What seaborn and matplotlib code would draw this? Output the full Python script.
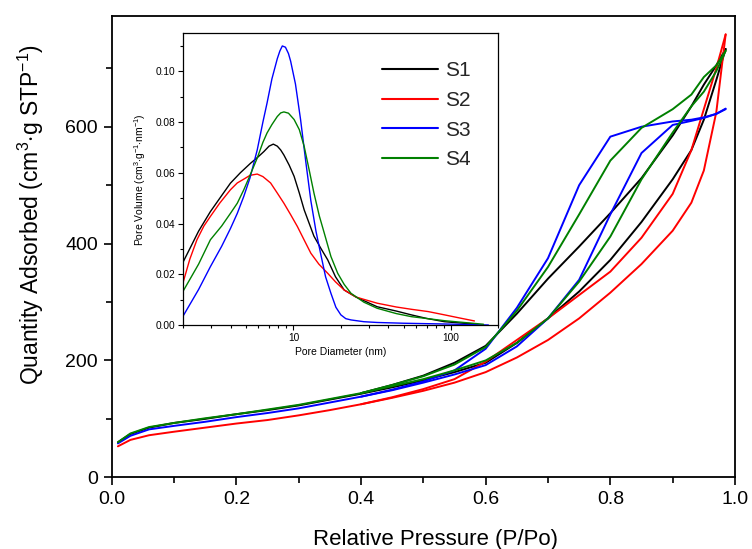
import numpy as np
import pandas as pd
import matplotlib
matplotlib.use("Agg")
import matplotlib.pyplot as plt
import seaborn as sns
from matplotlib.ticker import MultipleLocator, FixedLocator, NullFormatter, FixedFormatter

sns.set_theme(style="white")
plt.rcParams['font.family'] = ['Liberation Sans', 'DejaVu Sans']
plt.rcParams['mathtext.fontset'] = 'custom'
plt.rcParams['mathtext.rm'] = 'Liberation Sans'
plt.rcParams['mathtext.it'] = 'Liberation Sans:italic'
plt.rcParams['mathtext.bf'] = 'Liberation Sans:bold'

samples = ["S1", "S2", "S3", "S4"]
colors = ["#000000", "#ff0000", "#0000ff", "#008000"]

# ---- isotherms: adsorption branches ----
p_ads = [0.01, 0.03, 0.06, 0.10, 0.15, 0.20, 0.25, 0.30, 0.35, 0.40, 0.45, 0.50,
         0.55, 0.60, 0.65, 0.70, 0.75, 0.80, 0.85, 0.90, 0.93, 0.95, 0.97, 0.985]
s1_ads = [60, 74, 85, 93, 100, 108, 115, 123, 133, 143, 154, 166,
          180, 196, 230, 272, 318, 372, 437, 510, 560, 612, 680, 733]
s2_ads = [53, 64, 72, 78, 85, 92, 98, 106, 115, 125, 136, 148,
          162, 180, 205, 235, 272, 316, 365, 422, 470, 525, 625, 758]
s3_ads = [58, 71, 82, 88, 95, 103, 110, 118, 128, 138, 149, 162,
          176, 192, 224, 272, 338, 450, 555, 603, 610, 615, 622, 630]
s4_ads = [60, 75, 86, 93, 101, 108, 116, 124, 134, 144, 156, 168,
          183, 200, 230, 272, 335, 412, 510, 590, 635, 660, 695, 730]

# ---- isotherms: desorption branches ----
p_des = [0.985, 0.97, 0.95, 0.93, 0.90, 0.85, 0.80, 0.75, 0.70, 0.65, 0.60,
         0.55, 0.50, 0.45, 0.40]
s1_des = [733, 705, 672, 635, 585, 512, 452, 395, 340, 280, 225, 196, 174, 158, 144]
s2_des = [758, 700, 630, 560, 485, 410, 352, 312, 272, 235, 198, 168, 151, 137, 125]
s3_des = [631, 622, 616, 612, 609, 600, 583, 500, 375, 290, 220, 183, 164, 150, 138]
s4_des = [730, 705, 685, 655, 630, 598, 542, 450, 360, 285, 223, 193, 173, 158, 144]

# ---- pore size distributions ----
s1_d = [2.0, 2.5, 2.97, 3.5, 3.98, 4.6, 5.35, 5.9, 6.5, 7.0, 7.45, 7.9, 8.3, 8.7, 9.4,
        10.1, 10.9, 11.7, 12.6, 13.5, 15, 16.5, 18.5, 21, 25, 34, 45, 56, 70, 91, 120, 148]
s1_v = [0.025, 0.037, 0.0447, 0.051, 0.0559, 0.060, 0.0638, 0.066, 0.0684, 0.0705, 0.0713,
        0.0705, 0.069, 0.067, 0.063, 0.0586, 0.052, 0.0454, 0.040, 0.035, 0.030, 0.0257,
        0.019, 0.0138, 0.011, 0.0072, 0.0055, 0.004, 0.0026, 0.0013, 0.0007, 0.0004]
s2_d = [2.0, 2.2, 2.44, 2.7, 2.97, 3.4, 3.98, 4.4, 4.84, 5.3, 5.89, 6.4, 7.16, 7.9, 8.7,
        9.6, 10.6, 11.7, 12.9, 14.5, 16.5, 18.5, 21, 25, 34, 45, 56, 71.6, 91, 115, 141]
s2_v = [0.0171, 0.026, 0.0336, 0.039, 0.0428, 0.048, 0.0533, 0.056, 0.0575, 0.059, 0.0595,
        0.0585, 0.056, 0.052, 0.048, 0.0435, 0.0388, 0.0335, 0.0283, 0.024, 0.0204, 0.017,
        0.0138, 0.011, 0.0086, 0.0071, 0.0062, 0.0053, 0.004, 0.0027, 0.0016]
s3_d = [2.0, 2.5, 2.97, 3.5, 3.98, 4.4, 4.84, 5.3, 5.89, 6.4, 6.8, 7.3, 7.9, 8.2, 8.5,
        8.9, 9.3, 9.6, 10.3, 11.1, 12.0, 12.9, 13.9, 14.9, 16.0, 17.3, 18.6, 20, 21.5,
        23.2, 28, 34, 50, 91, 173]
s3_v = [0.0037, 0.014, 0.023, 0.031, 0.038, 0.044, 0.0507, 0.058, 0.069, 0.080, 0.0875,
        0.097, 0.105, 0.108, 0.110, 0.1095, 0.107, 0.104, 0.095, 0.081, 0.064, 0.049,
        0.037, 0.028, 0.019, 0.0125, 0.007, 0.004, 0.0025, 0.002, 0.0013, 0.001, 0.0007,
        0.0004, 0.0]
s4_d = [2.0, 2.5, 2.97, 3.5, 3.98, 4.4, 4.84, 5.3, 5.89, 6.4, 6.8, 7.3, 7.9, 8.3, 8.7,
        9.3, 10.1, 10.9, 11.7, 12.6, 13.5, 14.6, 15.7, 17.3, 19.1, 21, 23.2, 28, 34, 45,
        56, 91, 161]
s4_v = [0.0135, 0.024, 0.0336, 0.039, 0.044, 0.048, 0.0533, 0.059, 0.0658, 0.072, 0.0757,
        0.079, 0.0822, 0.0836, 0.084, 0.0835, 0.081, 0.077, 0.0704, 0.061, 0.052, 0.043,
        0.0362, 0.027, 0.0204, 0.016, 0.0125, 0.009, 0.0066, 0.0045, 0.0033, 0.0017, 0.0003]

ads = [s1_ads, s2_ads, s3_ads, s4_ads]
des = [s1_des, s2_des, s3_des, s4_des]
psd_d = [s1_d, s2_d, s3_d, s4_d]
psd_v = [s1_v, s2_v, s3_v, s4_v]

fig = plt.figure(figsize=(7.52, 5.49), dpi=100)
fig.patch.set_facecolor("white")
ax = fig.add_axes([0.1485, 0.1306, 0.8289, 0.8408])
ax.set_facecolor("white")

for name, col, a, d in zip(samples, colors, ads, des):
    sns.lineplot(x=p_ads, y=a, ax=ax, color=col, lw=1.4, sort=False, legend=False)
    sns.lineplot(x=p_des, y=d, ax=ax, color=col, lw=1.4, sort=False, legend=False)

ax.set_xlim(0, 1.0)
ax.set_ylim(0, 790)
ax.xaxis.set_major_locator(MultipleLocator(0.2))
ax.xaxis.set_minor_locator(MultipleLocator(0.1))
ax.yaxis.set_major_locator(MultipleLocator(200))
ax.yaxis.set_minor_locator(MultipleLocator(100))
ax.set_xticklabels([f"{v:.1f}" for v in ax.get_xticks()])
ax.tick_params(axis="both", which="major", direction="out", length=6, width=1.2,
               labelsize=14, color="black", labelcolor="black", bottom=True, left=True,
               pad=4)
ax.tick_params(axis="both", which="minor", direction="out", length=4, width=1.2,
               color="black", bottom=True, left=True)
for sp in ax.spines.values():
    sp.set_color("black")
    sp.set_linewidth(1.3)
ax.set_xlabel("Relative Pressure (P/Po)", fontsize=16, color="black")
ax.xaxis.set_label_coords(0.52, -0.112)
ax.set_ylabel(r"Quantity Adsorbed (cm$^{3}$$\cdot$g STP$^{-1}$)", fontsize=16.5,
              color="black")
ax.yaxis.set_label_coords(-0.105, 0.57)

# ---- inset ----
ins = fig.add_axes([0.2438, 0.408, 0.4189, 0.5314])
ins.set_facecolor("white")
ins.set_xscale("log")
for name, col, dd, vv in zip(samples, colors, psd_d, psd_v):
    sns.lineplot(x=dd, y=vv, ax=ins, color=col, lw=1.0, sort=False, label=name)
ins.set_xlim(2, 200)
ins.set_ylim(0, 0.115)
ins.xaxis.set_major_locator(FixedLocator([10, 100]))
ins.xaxis.set_major_formatter(FixedFormatter(["10", "100"]))
ins.xaxis.set_minor_locator(FixedLocator([2, 3, 4, 5, 6, 7, 8, 9, 20, 30, 40, 50, 60, 70, 80, 90, 200]))
ins.xaxis.set_minor_formatter(NullFormatter())
ins.yaxis.set_major_locator(MultipleLocator(0.02))
ins.yaxis.set_minor_locator(MultipleLocator(0.01))
ins.set_yticklabels([f"{v:.2f}" for v in ins.get_yticks()])
ins.tick_params(axis="both", which="major", direction="out", length=3.5, width=0.8,
                labelsize=7.3, color="black", labelcolor="black", bottom=True, left=True, pad=2)
ins.tick_params(axis="both", which="minor", direction="out", length=2, width=0.8,
                color="black", bottom=True, left=True)
for sp in ins.spines.values():
    sp.set_color("black")
    sp.set_linewidth(0.9)
ins.set_xlabel("Pore Diameter (nm)", fontsize=7.5, color="black", labelpad=3)
ins.set_ylabel(r"Pore Volume (cm$^{3}$$\cdot$g$^{-1}$$\cdot$nm$^{-1}$)", fontsize=7.5,
               color="black", labelpad=6)
leg = ins.legend(loc="upper right", bbox_to_anchor=(0.96, 0.955), frameon=False,
                 fontsize=15, handlelength=2.7, handletextpad=0.35, labelspacing=0.52,
                 borderaxespad=0.3)
for line in leg.get_lines():
    line.set_linewidth(1.5)

fig.savefig("out.png", dpi=100, facecolor="white")
